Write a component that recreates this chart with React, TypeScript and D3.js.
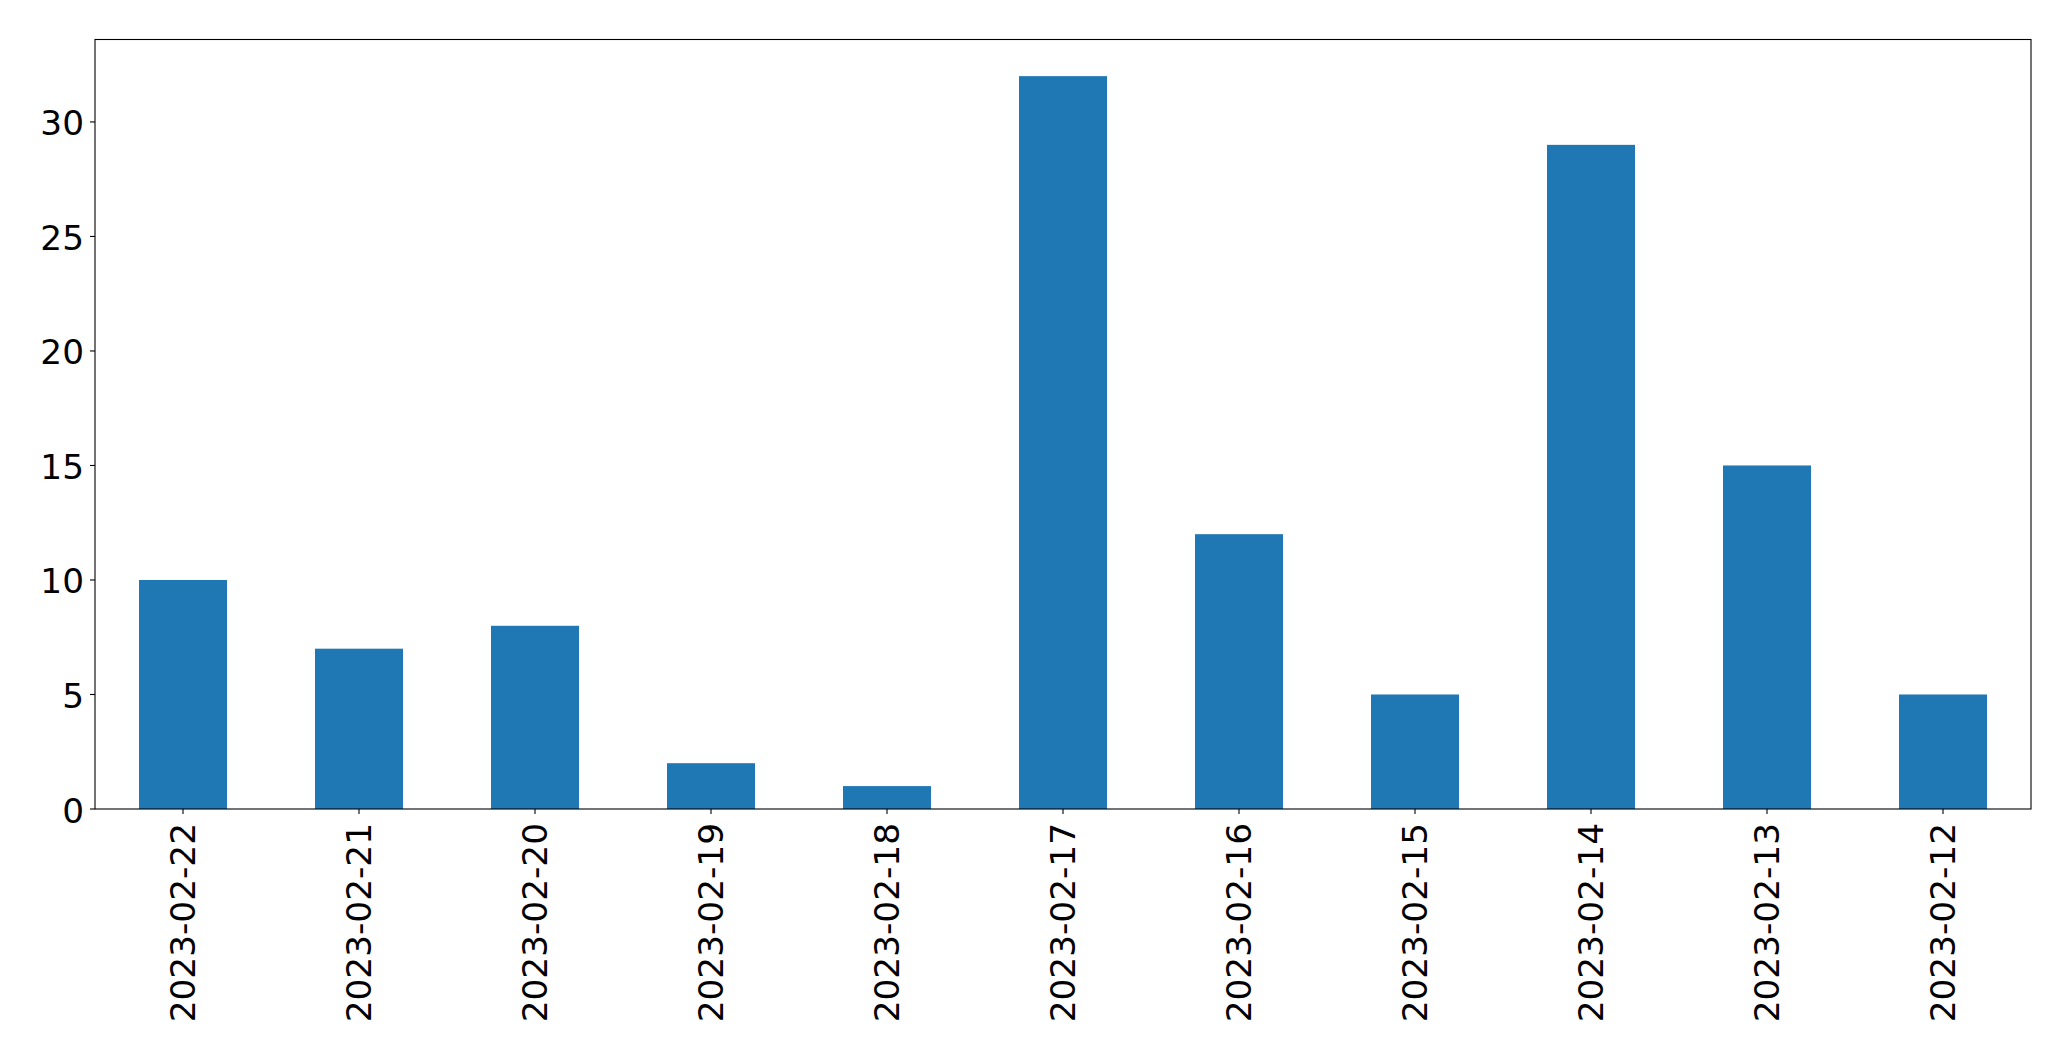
import React, { useEffect, useRef } from "react";
import * as d3 from "d3";

const categories = [
  "2023-02-22", "2023-02-21", "2023-02-20", "2023-02-19", "2023-02-18", "2023-02-17",
  "2023-02-16", "2023-02-15", "2023-02-14", "2023-02-13", "2023-02-12",
];
const values = [10, 7, 8, 2, 1, 32, 12, 5, 29, 15, 5];
const yTicks = [0, 5, 10, 15, 20, 25, 30];

const W = 2071;
const H = 1061;
const M = { left: 95, right: 2031, top: 39.5, bottom: 809 };
const FONT = "'DejaVu Sans', sans-serif";
const FS = 34.3;

export default function App() {
  const ref = useRef<SVGSVGElement>(null);
  useEffect(() => {
    const svg = d3.select(ref.current);
    svg.selectAll("*").remove();
    const x = d3.scaleBand<string>().domain(categories).range([M.left, M.right]).paddingInner(0.5).paddingOuter(0.25);
    const y = d3.scaleLinear().domain([0, 32 * 1.05]).range([M.bottom, M.top]);

    svg.append("rect").attr("width", W).attr("height", H).attr("fill", "white");

    svg.append("g").selectAll("rect").data(values).join("rect")
      .attr("x", (_, i) => x(categories[i])!)
      .attr("width", x.bandwidth())
      .attr("y", (d) => y(d))
      .attr("height", (d) => y(0) - y(d))
      .attr("fill", "#1f77b4");

    // frame
    svg.append("rect")
      .attr("x", M.left).attr("y", M.top)
      .attr("width", M.right - M.left).attr("height", M.bottom - M.top)
      .attr("fill", "none").attr("stroke", "black").attr("stroke-width", 1.1);

    // y ticks
    const yg = svg.append("g");
    yTicks.forEach((t) => {
      yg.append("line").attr("x1", M.left - 5).attr("x2", M.left).attr("y1", y(t)).attr("y2", y(t))
        .attr("stroke", "black").attr("stroke-width", 1.1);
      yg.append("text").attr("x", M.left - 11).attr("y", y(t) + 1.5)
        .attr("text-anchor", "end").attr("dominant-baseline", "central")
        .attr("font-family", FONT).attr("font-size", FS).attr("fill", "black").text(String(t));
    });

    // x ticks
    const xg = svg.append("g");
    categories.forEach((c) => {
      const cx = x(c)! + x.bandwidth() / 2;
      xg.append("line").attr("x1", cx).attr("x2", cx).attr("y1", M.bottom).attr("y2", M.bottom + 5)
        .attr("stroke", "black").attr("stroke-width", 1.1);
      xg.append("text")
        .attr("transform", `translate(${cx},${M.bottom + 14}) rotate(-90)`)
        .attr("text-anchor", "end").attr("dominant-baseline", "central")
        .attr("font-family", FONT).attr("font-size", FS).attr("fill", "black").text(c);
    });
  }, []);
  return (
    <svg ref={ref} width={W} height={H} style={{ position: "absolute", left: 0, top: 0, display: "block" }} />
  );
}
